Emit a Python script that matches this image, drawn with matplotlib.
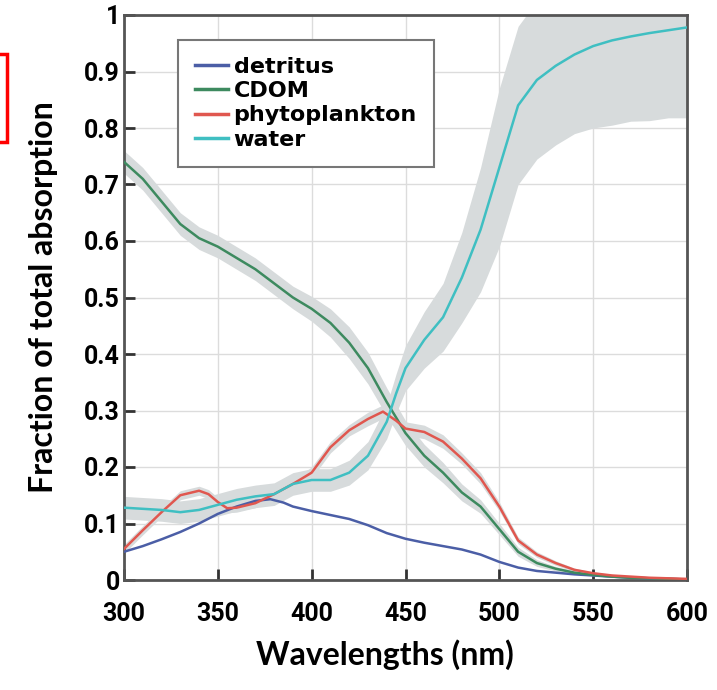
import numpy as np
import matplotlib.pyplot as plt
from matplotlib.patches import Rectangle

cdom_wl = [300, 310, 320, 330, 340, 350, 360, 370, 380, 390, 400, 410, 420, 430, 440,
           450, 460, 470, 480, 490, 500, 510, 520, 530, 540, 550, 560, 570, 580, 590, 600]
cdom = [0.74, 0.71, 0.67, 0.63, 0.605, 0.59, 0.57, 0.55, 0.525, 0.50, 0.48, 0.455, 0.42, 0.375, 0.315,
        0.26, 0.22, 0.19, 0.155, 0.13, 0.09, 0.05, 0.03, 0.02, 0.013, 0.009, 0.006, 0.004, 0.003, 0.002, 0.001]
cdom_sd = [0.02, 0.02, 0.02, 0.02, 0.02, 0.02, 0.02, 0.02, 0.02, 0.02, 0.022, 0.025, 0.028, 0.028, 0.025,
           0.022, 0.02, 0.018, 0.015, 0.012, 0.01, 0.008, 0.006, 0.004, 0.003, 0.002, 0.002, 0.001, 0.001, 0.001, 0.001]

water_wl = [300, 310, 320, 330, 340, 350, 360, 370, 380, 390, 400, 410, 420, 430, 440, 445,
            450, 460, 470, 480, 490, 500, 510, 520, 530, 540, 550, 560, 570, 580, 590, 600]
water = [0.128, 0.126, 0.124, 0.12, 0.124, 0.133, 0.142, 0.148, 0.152, 0.17, 0.177, 0.177, 0.19, 0.22, 0.28, 0.33,
         0.375, 0.425, 0.465, 0.535, 0.62, 0.73, 0.84, 0.885, 0.91, 0.93, 0.945, 0.955, 0.962, 0.968, 0.973, 0.978]
water_sd = [0.02, 0.02, 0.02, 0.02, 0.02, 0.02, 0.02, 0.02, 0.02, 0.02, 0.02, 0.02, 0.022, 0.025, 0.03, 0.035,
            0.04, 0.05, 0.06, 0.08, 0.11, 0.14, 0.14, 0.14, 0.14, 0.14, 0.145, 0.15, 0.15, 0.155, 0.155, 0.16]

phyto_wl = [300, 310, 320, 330, 340, 345, 350, 355, 360, 370, 380, 390, 400, 410, 420, 430, 438,
            445, 450, 460, 470, 480, 490, 500, 510, 520, 530, 540, 550, 560, 570, 580, 590, 600]
phyto = [0.055, 0.088, 0.12, 0.15, 0.158, 0.152, 0.138, 0.127, 0.128, 0.136, 0.152, 0.17, 0.19, 0.235, 0.265, 0.285, 0.298,
         0.282, 0.268, 0.262, 0.245, 0.215, 0.18, 0.13, 0.07, 0.045, 0.03, 0.018, 0.012, 0.008, 0.006, 0.004, 0.003, 0.002]
phyto_sd = [0.008, 0.008, 0.008, 0.008, 0.008, 0.008, 0.008, 0.008, 0.008, 0.008, 0.008, 0.008, 0.01, 0.01, 0.01, 0.012, 0.012,
            0.012, 0.012, 0.012, 0.012, 0.01, 0.01, 0.008, 0.006, 0.005, 0.004, 0.003, 0.002, 0.002, 0.001, 0.001, 0.001, 0.001]

detritus_wl = [300, 310, 320, 330, 340, 350, 360, 370, 378, 385, 390, 400, 410, 420, 430, 440,
               450, 460, 470, 480, 490, 500, 510, 520, 530, 540, 550, 560, 570, 580, 590, 600]
detritus = [0.05, 0.06, 0.072, 0.085, 0.1, 0.117, 0.13, 0.14, 0.143, 0.137, 0.13, 0.122, 0.115, 0.108, 0.097, 0.083,
            0.073, 0.066, 0.06, 0.054, 0.045, 0.032, 0.022, 0.016, 0.013, 0.01, 0.008, 0.006, 0.004, 0.003, 0.002, 0.001]

series = [
    ('detritus', detritus_wl, detritus, None, '#4b5ea6'),
    ('CDOM', cdom_wl, cdom, cdom_sd, '#3d8a5f'),
    ('phytoplankton', phyto_wl, phyto, phyto_sd, '#e0574f'),
    ('water', water_wl, water, water_sd, '#3fbfc2'),
]

fig = plt.figure(figsize=(7.17, 6.9), dpi=100)
ax = fig.add_axes([124 / 717, 1 - 580 / 690, 563 / 717, 565 / 690])

band = '#d7dbdc'
for name, wl, v, sd, col in series:
    if sd is not None:
        v = np.array(v)
        sd = np.array(sd)
        ax.fill_between(wl, v - sd, v + sd, color=band, lw=0, zorder=1)
for name, wl, v, sd, col in series:
    ax.plot(wl, v, color=col, lw=1.8, label=name, zorder=3)

ax.set_xlim(300, 600)
ax.set_ylim(0, 1)
ax.set_xticks(np.arange(300, 601, 50))
ax.set_yticks(np.arange(0, 1.01, 0.1))
ax.set_yticklabels(['0'] + ['%.1f' % t for t in np.arange(0.1, 0.95, 0.1)] + ['1'])
ax.grid(True, color='#dcdcdc', lw=1, zorder=0)
ax.set_axisbelow(True)
ax.tick_params(direction='in', length=8, width=2, color='#333333')
ax.tick_params(axis='x', pad=16)
ax.tick_params(axis='y', pad=3)
for lab in ax.get_xticklabels() + ax.get_yticklabels():
    lab.set_fontfamily('Roboto')
    lab.set_fontweight('bold')
    lab.set_fontsize(18)
for s in ax.spines.values():
    s.set_color('#555555')
    s.set_linewidth(2)

ax.set_ylabel('Fraction of total absorption', fontsize=23, fontweight='bold',
              fontfamily='Lato', labelpad=19)
fig.text(385 / 717, 1 - 655 / 690, 'Wavelengths (nm)', fontsize=23, fontweight='bold',
         fontfamily='Lato', ha='center', va='center')

leg = ax.legend(loc='upper left', bbox_to_anchor=(0.096, 0.956), borderaxespad=0,
                fancybox=False, handlelength=1.5, handletextpad=0.25, labelspacing=0.2,
                borderpad=0.75, prop={'family': 'DejaVu Sans', 'weight': 'bold', 'size': 16})
leg.get_frame().set_edgecolor('#777777')
leg.get_frame().set_linewidth(1.5)
leg.get_frame().set_alpha(1)
for line in leg.get_lines():
    line.set_linewidth(2.5)

fig.patches.append(Rectangle((-10 / 717, 1 - 142 / 690), 17 / 717, 88 / 690,
                             transform=fig.transFigure, fill=False, edgecolor='red', lw=2.5))

fig.savefig('out.png', dpi=100)
